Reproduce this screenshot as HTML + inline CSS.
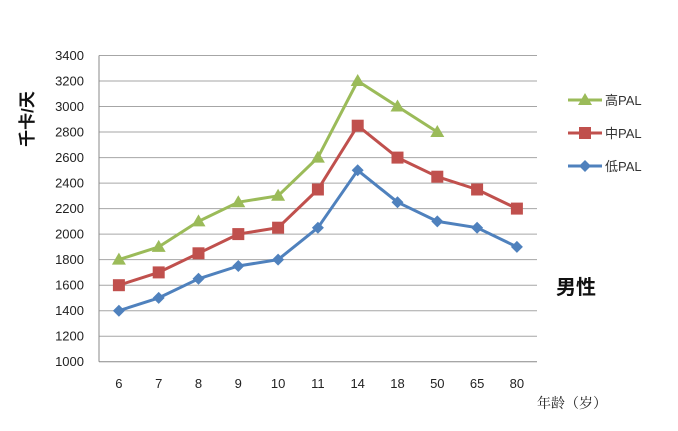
<!DOCTYPE html>
<html><head><meta charset="utf-8"><style>
html,body{margin:0;padding:0;background:#fff;width:678px;height:431px;overflow:hidden}
svg text{font-family:"Liberation Sans","Noto Sans CJK SC",sans-serif}
</style></head><body>
<svg width="678" height="431" viewBox="0 0 678 431" xmlns="http://www.w3.org/2000/svg">
<defs>
<rect id="sq" x="-6" y="-6" width="12" height="12" fill="#C0504D"/>
<path id="tr" d="M0,-7 L7,5 L-7,5 Z" fill="#9BBB59"/>
<path id="di" d="M0,-6 L6,0 L0,6 L-6,0 Z" fill="#4F81BD"/>
</defs>
<g stroke="#A6A6A6" stroke-width="1">
<line x1="99" x2="537" y1="55.5" y2="55.5"/><line x1="99" x2="537" y1="81" y2="81"/>
<line x1="99" x2="537" y1="106.5" y2="106.5"/><line x1="99" x2="537" y1="132" y2="132"/>
<line x1="99" x2="537" y1="157.6" y2="157.6"/><line x1="99" x2="537" y1="183.1" y2="183.1"/>
<line x1="99" x2="537" y1="208.6" y2="208.6"/><line x1="99" x2="537" y1="234.1" y2="234.1"/>
<line x1="99" x2="537" y1="259.6" y2="259.6"/><line x1="99" x2="537" y1="285.2" y2="285.2"/>
<line x1="99" x2="537" y1="310.7" y2="310.7"/><line x1="99" x2="537" y1="336.2" y2="336.2"/>
<line x1="99" x2="537" y1="361.7" y2="361.7" stroke="#888"/>
<line x1="99" x2="99" y1="55.5" y2="361.7" stroke="#888"/>
</g>
<g font-size="13" fill="#222" text-anchor="end">
<text x="84" y="60">3400</text><text x="84" y="85.5">3200</text><text x="84" y="111">3000</text>
<text x="84" y="136.5">2800</text><text x="84" y="162">2600</text><text x="84" y="187.5">2400</text>
<text x="84" y="213">2200</text><text x="84" y="238.5">2000</text><text x="84" y="264">1800</text>
<text x="84" y="289.5">1600</text><text x="84" y="315">1400</text><text x="84" y="340.5">1200</text>
<text x="84" y="366">1000</text>
</g>
<g font-size="13" fill="#222" text-anchor="middle">
<text x="118.9" y="388">6</text><text x="158.7" y="388">7</text><text x="198.5" y="388">8</text>
<text x="238.3" y="388">9</text><text x="278.1" y="388">10</text><text x="317.9" y="388">11</text>
<text x="357.7" y="388">14</text><text x="397.5" y="388">18</text><text x="437.3" y="388">50</text>
<text x="477.1" y="388">65</text><text x="516.9" y="388">80</text>
</g>
<g fill="none" stroke-width="3" stroke-linejoin="round">
<polyline stroke="#9BBB59" points="118.9,259.6 158.7,246.9 198.5,221.4 238.3,202.2 278.1,195.8 317.9,157.6 357.7,81 397.5,106.5 437.3,132"/>
<polyline stroke="#C0504D" points="118.9,285.2 158.7,272.4 198.5,253.3 238.3,234.1 278.1,227.7 317.9,189.5 357.7,125.7 397.5,157.6 437.3,176.7 477.1,189.5 516.9,208.6"/>
<polyline stroke="#4F81BD" points="118.9,310.7 158.7,297.9 198.5,278.8 238.3,266 278.1,259.6 317.9,227.7 357.7,170.3 397.5,202.2 437.3,221.4 477.1,227.7 516.9,246.9"/>
</g>
<use href="#tr" x="118.9" y="259.6"/><use href="#tr" x="158.7" y="246.9"/><use href="#tr" x="198.5" y="221.4"/>
<use href="#tr" x="238.3" y="202.2"/><use href="#tr" x="278.1" y="195.8"/><use href="#tr" x="317.9" y="157.6"/>
<use href="#tr" x="357.7" y="81"/><use href="#tr" x="397.5" y="106.5"/><use href="#tr" x="437.3" y="132"/>
<use href="#sq" x="118.9" y="285.2"/><use href="#sq" x="158.7" y="272.4"/><use href="#sq" x="198.5" y="253.3"/>
<use href="#sq" x="238.3" y="234.1"/><use href="#sq" x="278.1" y="227.7"/><use href="#sq" x="317.9" y="189.5"/>
<use href="#sq" x="357.7" y="125.7"/><use href="#sq" x="397.5" y="157.6"/><use href="#sq" x="437.3" y="176.7"/>
<use href="#sq" x="477.1" y="189.5"/><use href="#sq" x="516.9" y="208.6"/>
<use href="#di" x="118.9" y="310.7"/><use href="#di" x="158.7" y="297.9"/><use href="#di" x="198.5" y="278.8"/>
<use href="#di" x="238.3" y="266"/><use href="#di" x="278.1" y="259.6"/><use href="#di" x="317.9" y="227.7"/>
<use href="#di" x="357.7" y="170.3"/><use href="#di" x="397.5" y="202.2"/><use href="#di" x="437.3" y="221.4"/>
<use href="#di" x="477.1" y="227.7"/><use href="#di" x="516.9" y="246.9"/>
<!-- legend -->
<line x1="568" x2="602" y1="100" y2="100" stroke="#9BBB59" stroke-width="3"/><use href="#tr" x="585" y="100"/>
<line x1="568" x2="602" y1="133" y2="133" stroke="#C0504D" stroke-width="3"/><use href="#sq" x="585" y="133"/>
<line x1="568" x2="602" y1="166" y2="166" stroke="#4F81BD" stroke-width="3"/><use href="#di" x="585" y="166"/>
<g font-size="13" fill="#333">
<text x="605" y="105">高PAL</text><text x="605" y="138">中PAL</text><text x="605" y="171">低PAL</text>
</g>
<text x="556" y="294" font-size="20" font-weight="bold" fill="#111">男性</text>
<text x="537" y="408" font-size="14" fill="#222" style="font-family:'Noto Serif CJK SC',serif">年龄（岁）</text>
<text transform="translate(33,119) rotate(-90)" font-size="17" font-weight="bold" fill="#111" text-anchor="middle">千卡/天</text>
</svg>
</body></html>
